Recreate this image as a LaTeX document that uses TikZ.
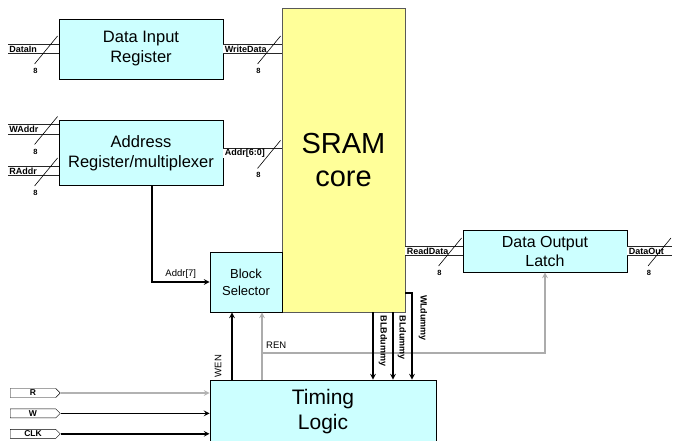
\documentclass[tikz,border=0pt]{standalone}
\usepackage{fontspec}
\setmainfont{Liberation Sans}
\usepackage{xcolor}
\usetikzlibrary{arrows, positioning, calc, shapes.symbols}

\definecolor{boxcyan}{HTML}{CCFFFF}
\definecolor{coreyellow}{HTML}{FFFF99}

% bus width mark: slash across the bus end plus its width
\newcommand{\busmark}[2]{%
  \begin{scope}[shift={#1}]
    \draw[line width=0.6pt] (-24,15) -- (-1,-13);
    \node[numlbl] (#2) at (-23,22) {8};
  \end{scope}}

\begin{document}
\begin{tikzpicture}[
    x=1pt, y=-1pt, >=stealth,
    blk/.style={draw=black, line width=0.9pt, fill=boxcyan, align=center, inner sep=2pt},
    core/.style={draw=gray!70!black, line width=0.9pt, fill=coreyellow, align=center},
    bus/.style={draw=black!85, line width=0.8pt, double=white, double distance=8.5pt},
    buslbl/.style={pos=0, anchor=west, inner sep=1pt, font=\fontsize{9}{9}\selectfont\bfseries},
    numlbl/.style={inner sep=0pt, font=\fontsize{7.5}{7.5}\selectfont\bfseries},
    sig/.style={->, line width=1.5pt},
    gsig/.style={->, line width=1.5pt, gray!65},
    lbl/.style={font=\fontsize{9.5}{9.5}\selectfont, inner sep=1pt},
    blbl/.style={font=\fontsize{9}{9}\selectfont\bfseries, inner sep=1pt},
    port/.style={signal, signal to=east, draw, minimum width=50pt, minimum height=9pt, inner sep=0pt, font=\fontsize{8.5}{8.5}\selectfont\bfseries}
]
\useasboundingbox (0,0) rectangle (673,441);

% blocks
\node[core, minimum width=123pt, minimum height=304pt, font=\fontsize{29}{33}\selectfont] (sram) at (343.5,160) {SRAM\\core};
\node[blk, minimum width=164pt, minimum height=60pt, font=\fontsize{16.5}{20}\selectfont] (dir) at (141,49) {Data Input\\Register};
\node[blk, below=41pt of dir, minimum width=164pt, minimum height=65pt, font=\fontsize{16.5}{20}\selectfont] (areg) {Address\\Register/multiplexer};
\node[blk, minimum width=72pt, minimum height=60pt, font=\fontsize{13}{17}\selectfont] (bsel) at (246,282) {Block\\Selector};
\node[blk, minimum width=164pt, minimum height=42pt, font=\fontsize{16}{19}\selectfont] (dol) at (545,251) {Data Output\\Latch};
\node[blk, minimum width=226pt, minimum height=64pt, font=\fontsize{21}{25}\selectfont] (tl) at (323,412) {Timing\\Logic};

% input ports
\node[port] (pr) at (33,393) {R};
\node[port, below=11pt of pr] (pw) {W};
\node[port, below=11pt of pw] (pclk) {CLK};

% buses
\coordinate (din) at (8,49);
\coordinate (wa) at (8,129.5);
\coordinate (ra) at (8,171);
\coordinate (wdata) at (dir.east -| sram.west);
\coordinate (addr) at (areg.east -| sram.west);
\coordinate (rdata) at (sram.east |- dol.west);
\coordinate (dout) at (672,251);

\draw[bus] (din) -- node[buslbl] {DataIn} (dir.west);
\draw[bus] (wa) -- node[buslbl] {WAddr} (wa -| areg.west);
\draw[bus] (ra) -- node[buslbl] {RAddr} (ra -| areg.west);
\draw[bus] (dir.east) -- node[buslbl] {WriteData} (wdata);
\draw[bus] (areg.east) -- node[buslbl] {Addr[6:0]} (addr);
\draw[bus] (rdata) -- node[buslbl] {ReadData} (dol.west);
\draw[bus] (dol.east) -- node[buslbl] {DataOut} (dout);

\busmark{(dir.west)}{n1}
\busmark{(wa -| areg.west)}{n2}
\busmark{(ra -| areg.west)}{n3}
\busmark{(wdata)}{n4}
\busmark{(addr)}{n5}
\busmark{(dol.west)}{n6}
\busmark{(dout)}{n7}

% control signals
\coordinate (a7) at ([xshift=11pt]areg.south);
\draw[sig] (a7) |- node[lbl, pos=0.75, above=2pt] (a7l) {Addr[7]} (bsel.west);

\coordinate (wen) at ([xshift=-14pt]bsel.south);
\draw[sig] (tl.north -| wen) -- (wen);
\node[lbl, rotate=90] (wenl) at (218,366) {WEN};

\coordinate (ren) at ([xshift=16pt]bsel.south);
\coordinate (rensplit) at (262,353);
\draw[gsig] (tl.north -| ren) -- (ren);
\draw[gsig] (rensplit) -| (dol.south);
\node[lbl, anchor=south west] (renl) at ([xshift=3pt, yshift=3pt]rensplit) {REN};

\coordinate (blb) at ([xshift=29.5pt]sram.south);
\coordinate (bl) at ([xshift=49.5pt]sram.south);
\coordinate (wl) at ([yshift=-133pt]sram.east);
\draw[sig] (blb) -- (blb |- tl.north);
\draw[sig] (bl) -- (bl |- tl.north);
\draw[sig] (wl) -| ([xshift=89pt]tl.north);
\node[blbl, rotate=-90] (blbl) at (383,341) {BLBdummy};
\node[blbl, rotate=-90] (bll) at (402,338) {BLdummy};
\node[blbl, rotate=-90] (wll) at (423,318) {WLdummy};

\draw[sig, gray!60] (pr.east) -- (pr.east -| tl.west);
\draw[sig] (pw.east) -- (pw.east -| tl.west);
\draw[sig] (pclk.east) -- (pclk.east -| tl.west);

\end{tikzpicture}
\end{document}
